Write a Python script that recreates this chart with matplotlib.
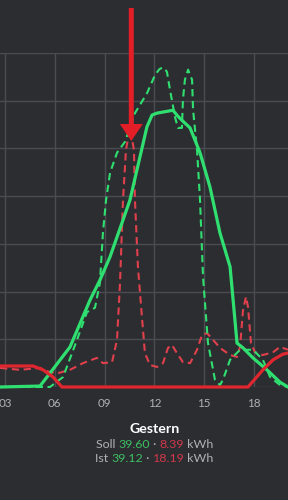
import matplotlib
matplotlib.use("Agg")
import matplotlib.pyplot as plt
from matplotlib.offsetbox import TextArea, HPacker, AnnotationBbox
from matplotlib.patches import FancyArrow
from matplotlib.transforms import IdentityTransform

plt.rcParams['font.family'] = ['Lato', 'DejaVu Sans']

# ---- data (hours, arbitrary power units; 1 unit = one grid step) ----
ist_pv_h = [2.70, 5.11, 5.71, 6.92, 8.12, 8.72, 9.33, 10.11, 10.53, 11.13, 11.55, 11.86, 12.16,
            13.12, 13.40, 13.66, 14.15, 14.75, 15.35, 15.95, 16.56, 16.98, 17.34, 17.94, 18.78,
            19.57, 20.05]
ist_pv_v = [0.0, 0.02, 0.29, 0.84, 1.82, 2.24, 2.73, 3.50, 3.92, 4.82, 5.45, 5.70, 5.74,
            5.80, 5.68, 5.59, 5.43, 4.91, 4.19, 3.23, 2.52, 0.92, 0.82, 0.61, 0.36,
            0.10, 0.0]

soll_pv_h = [2.70, 5.40, 5.71, 6.50, 7.34, 7.94, 8.42, 8.72, 8.90, 9.09, 9.33, 9.75, 10.23,
             10.83, 11.56, 12.04, 12.30, 12.46, 12.62, 12.76, 12.94, 13.24, 13.42, 13.66, 13.72,
             13.84, 14.03, 14.27, 14.33, 14.57, 14.75, 14.93, 15.23, 15.65, 15.95,
             16.13, 16.56, 17.16, 17.94, 18.54, 18.97, 19.57, 20.05]
soll_pv_v = [0.0, 0.0, 0.0, 0.21, 0.99, 1.57, 1.66, 2.18, 3.23, 3.92, 4.49, 4.91, 5.14,
             5.74, 6.16, 6.54, 6.66, 6.69, 6.68, 6.60, 6.23, 5.66, 5.43, 5.43, 6.02,
             6.44, 6.65, 6.44, 5.81, 4.97, 3.92, 2.31, 0.92, 0.15, 0.04,
             0.15, 0.57, 0.78, 0.78, 0.57, 0.21, 0.04, 0.0]

soll_load_h = [2.70, 3.90, 5.11, 5.71, 6.19, 6.92, 7.70, 8.54, 8.90, 9.45, 9.75, 9.93,
               10.11, 10.29, 10.53, 10.77, 10.83, 11.01, 11.25, 11.43, 11.74, 12.16,
               12.52, 12.82, 13.06, 13.36, 13.72, 14.15, 14.57, 14.87, 15.17, 15.53,
               15.95, 16.56, 16.98, 17.16, 17.34, 17.52, 17.64, 17.82, 18.06, 18.54,
               19.15, 19.57, 20.05]
soll_load_v = [0.40, 0.36, 0.40, 0.31, 0.29, 0.36, 0.50, 0.61, 0.50, 0.52, 0.99, 2.18,
               3.92, 4.97, 5.43, 4.97, 3.92, 2.52, 1.47, 0.71, 0.46, 0.42,
               0.50, 0.82, 0.88, 0.71, 0.52, 0.50, 0.78, 1.09, 1.13, 0.99,
               0.82, 0.67, 0.63, 0.84, 1.61, 1.89, 1.68, 0.92, 0.73, 0.67,
               0.73, 0.84, 0.78]

ist_load_h = [2.70, 4.69, 5.29, 5.89, 6.43, 17.64, 18.54, 19.15, 19.75, 20.05]
ist_load_v = [0.44, 0.44, 0.36, 0.21, 0.0, 0.0, 0.36, 0.57, 0.69, 0.71]

x_ticks = [3, 6, 9, 12, 15, 18]
x_tick_labels = ["03", "06", "09", "12", "15", "18"]

title = "Gestern"
soll_pv_total, soll_load_total = "39.60", "8.39"
ist_pv_total, ist_load_total = "39.12", "18.19"

# ---- style ----
BG = "#2c2d31"
GRID = "#4b4c51"
GREEN = "#2fe070"
RED = "#e0262e"
RED_D = "#e0404c"
TXT = "#b0b1b5"
TXT_G = "#3cc062"
TXT_R = "#d2384a"

fig = plt.figure(figsize=(2.88, 5.0), dpi=100, facecolor=BG)
ax = fig.add_axes([0, 1 - 387 / 500, 1, (387 - 53) / 500])
ax.set_facecolor(BG)
ax.set_xlim(2.70, 20.05)
ax.set_ylim(0, 7.0)

for s in ax.spines.values():
    s.set_visible(False)
ax.set_xticks(x_ticks)
ax.set_xticklabels(x_tick_labels)
ax.set_yticks(range(0, 8))
ax.tick_params(axis='x', length=0, pad=8, colors=TXT, labelsize=8.4)
ax.tick_params(axis='y', length=0, labelleft=False)
ax.grid(True, color=GRID, linewidth=1.0)
ax.set_axisbelow(True)

ax.plot(soll_load_h, soll_load_v, color=RED_D, lw=1.5, dashes=(3.5, 2.2), clip_on=False, zorder=3)
ax.plot(soll_pv_h, soll_pv_v, color=GREEN, lw=1.5, dashes=(3.5, 2.2), clip_on=False, zorder=4)
ax.plot(ist_pv_h, ist_pv_v, color=GREEN, lw=2.3, clip_on=False, zorder=5,
        solid_joinstyle='round')
ax.plot(ist_load_h, ist_load_v, color=RED, lw=2.3, clip_on=False, zorder=6,
        solid_joinstyle='round')

# annotation arrow (drawn in figure pixel space, origin bottom-left)
arrow = FancyArrow(131.3, 500 - 8, 0, -(141 - 8), width=5, head_width=23,
                   head_length=17, length_includes_head=True,
                   color="#e31e26", linewidth=0, transform=IdentityTransform(),
                   zorder=10)
fig.add_artist(arrow)

# text block
fig.text(0.536, 1 - 429 / 500, title, ha='center', va='center', color='white',
         fontsize=10.2, fontweight='bold')


def line(parts, y):
    boxes = [TextArea(t, textprops=dict(color=c, fontsize=8.9)) for t, c in parts]
    pack = HPacker(children=boxes, align='baseline', pad=0, sep=0)
    ab = AnnotationBbox(pack, (0.536, y), xycoords='figure fraction', frameon=False,
                        box_alignment=(0.5, 0.5), pad=0)
    fig.add_artist(ab)


line([("Soll ", TXT), (soll_pv_total, TXT_G), (" · ", TXT), (soll_load_total, TXT_R),
      (" kWh", TXT)], 1 - 444 / 500)
line([("Ist ", TXT), (ist_pv_total, TXT_G), (" · ", TXT), (ist_load_total, TXT_R),
      (" kWh", TXT)], 1 - 459 / 500)

fig.savefig("out.png", dpi=100, facecolor=BG)
